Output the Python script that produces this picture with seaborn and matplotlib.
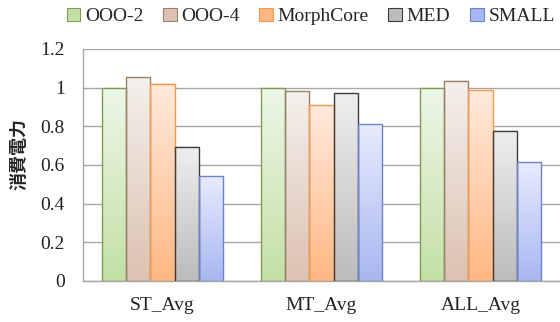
import numpy as np
import pandas as pd
import matplotlib
matplotlib.use('Agg')
import matplotlib.pyplot as plt
import seaborn as sns
from matplotlib.patches import Patch
from matplotlib.colors import LinearSegmentedColormap

categories = ['ST_Avg', 'MT_Avg', 'ALL_Avg']
series = ['OOO-2', 'OOO-4', 'MorphCore', 'MED', 'SMALL']
ooo2 = [1.0, 1.0, 1.0]
ooo4 = [1.055, 0.98, 1.036]
morphcore = [1.02, 0.91, 0.99]
med = [0.695, 0.97, 0.777]
small = [0.54, 0.81, 0.615]

# top colour, bottom colour, edge colour
styles = {
    'OOO-2': ('#eef6e8', '#c3e0a6', '#7f9c52'),
    'OOO-4': ('#f4f0ec', '#dcc2b2', '#9a7f6a'),
    'MorphCore': ('#ffeadc', '#ffb884', '#f59a4c'),
    'MED': ('#eeeeee', '#bcbcbc', '#3c3c3c'),
    'SMALL': ('#e8ebfd', '#a8b7f1', '#6d82c9'),
}

rows = []
for name, vals in zip(series, [ooo2, ooo4, morphcore, med, small]):
    for cat, v in zip(categories, vals):
        rows.append({'cat': cat, 'series': name, 'value': v})
df = pd.DataFrame(rows)

sns.set_style('white')
fig, ax = plt.subplots(figsize=(5.6, 3.22), dpi=100)
fig.subplots_adjust(left=0.148, right=1.0, top=0.848, bottom=0.128)

sns.barplot(data=df, x='cat', y='value', hue='series', hue_order=series,
            order=categories, width=0.765, ax=ax, legend=False, zorder=2,
            palette=[styles[s][1] for s in series])

# redraw each bar as a vertical gradient with its outline
for i, name in enumerate(series):
    top, bot, edge = styles[name]
    cmap = LinearSegmentedColormap.from_list(name, [bot, top])
    for p in ax.containers[i].patches:
        x0, y0 = p.get_x(), p.get_y()
        w, h = p.get_width(), p.get_height()
        grad = np.linspace(0, 1, 100).reshape(-1, 1)
        ax.imshow(grad, extent=[x0, x0 + w, y0, y0 + h], origin='lower',
                  cmap=cmap, aspect='auto', zorder=2)
        p.set_facecolor('none')
        p.set_edgecolor(edge)
        p.set_linewidth(1.0)
        p.set_zorder(3)

ax.set_ylim(0, 1.2)
ax.set_xlim(-0.5, 2.5)

ax.set_yticks(np.arange(0, 1.21, 0.2))
ax.set_yticklabels(['0', '0.2', '0.4', '0.6', '0.8', '1', '1.2'])
ax.yaxis.grid(True, color='#a6a6a6', linewidth=1.0, zorder=0)
ax.set_axisbelow(True)

ax.set_xticks([0, 1, 2])
ax.set_xticklabels(categories)
ax.set_xticks([0.5, 1.5], minor=True)
ax.tick_params(axis='x', which='major', length=0, pad=12)
ax.tick_params(axis='x', which='minor', length=5, color='#a6a6a6', width=1)
ax.tick_params(axis='y', length=5, color='#a6a6a6', width=1, pad=8)

for lab in ax.get_xticklabels() + ax.get_yticklabels():
    lab.set_fontfamily('Liberation Serif')
    lab.set_fontsize(14)
    lab.set_color('#222222')

for side in ['top', 'right']:
    ax.spines[side].set_visible(False)
for side in ['left', 'bottom']:
    ax.spines[side].set_color('#a6a6a6')
    ax.spines[side].set_linewidth(1.0)

ax.set_xlabel('')
ax.set_ylabel('消費電力', family=['Noto Sans CJK JP', 'DejaVu Sans'],
              fontsize=13, fontweight='bold')
ax.yaxis.set_label_coords(-0.115, 0.545)

handles = [Patch(facecolor=styles[s][1], edgecolor=styles[s][2], linewidth=0.8)
           for s in series]
leg = fig.legend(handles, series, loc='upper center', ncol=5,
                 bbox_to_anchor=(0.555, 1.03), frameon=False,
                 prop={'family': 'Liberation Serif', 'size': 14},
                 handlelength=0.7, handleheight=0.7, handletextpad=0.25,
                 columnspacing=1.0)

fig.savefig('out.png', dpi=100)
